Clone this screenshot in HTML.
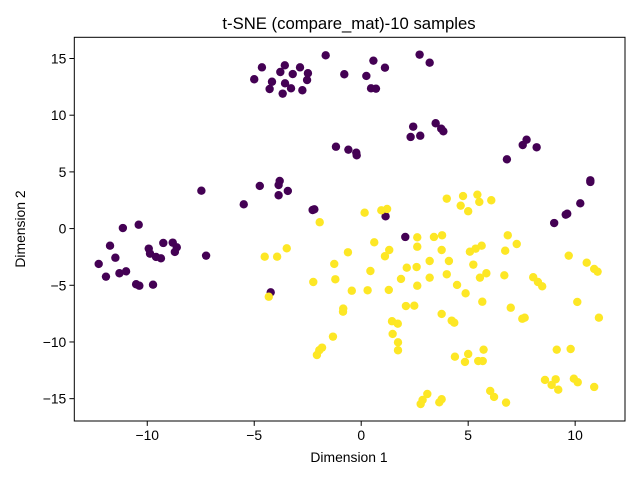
<!DOCTYPE html>
<html><head><meta charset="utf-8"><style>
html,body{margin:0;padding:0;background:#fff;}
svg{display:block;font-family:"Liberation Sans","DejaVu Sans",sans-serif;}
</style></head><body>
<svg id="chart" width="640" height="480" viewBox="0 0 640 480" xmlns="http://www.w3.org/2000/svg">
<rect width="640" height="480" fill="#fff"/>
<text x="349" y="29" font-size="16.7" text-anchor="middle" fill="#000">t-SNE (compare_mat)-10 samples</text>
<g id="marks"></g>
<g id="axes"></g>
<text x="349" y="462" font-size="13.9" text-anchor="middle" fill="#000">Dimension 1</text>
<text x="25" y="229" font-size="13.9" text-anchor="middle" fill="#000" transform="rotate(-90 25 229)">Dimension 2</text>
</svg>
<script>
const purpleX=[-1.66,-4.64,-3.57,-2.86,-3.78,-3.20,-2.49,-5.00,-4.17,-3.56,-2.53,-0.79,-4.28,-3.28,-3.67,-2.75,-1.18,-0.60,-0.23,-0.21,-7.47,-4.74,-3.81,-3.86,-3.43,-3.86,-5.49,-2.19,-2.27,-11.14,-10.40,2.73,3.20,0.57,1.11,0.24,0.46,0.69,2.43,2.31,2.76,3.48,3.74,3.84,7.73,7.55,8.20,6.81,10.71,10.71,10.24,9.63,9.56,9.02,1.14,2.06,-4.23,-11.74,-11.49,-12.27,-11.93,-11.30,-10.99,-10.52,-10.37,-9.73,-9.93,-9.87,-9.59,-9.36,-9.25,-8.81,-8.62,-8.71,-7.25];
const purpleY=[15.28,14.22,14.40,14.22,13.81,13.63,13.70,13.17,12.95,12.81,13.10,13.61,12.31,12.37,11.90,12.20,7.22,6.96,6.69,6.46,3.34,3.76,4.20,3.84,3.32,2.94,2.14,1.70,1.64,0.05,0.34,15.34,14.63,14.81,14.19,13.46,12.37,12.34,8.99,8.08,8.19,9.29,8.81,8.58,7.84,7.37,7.17,6.11,4.26,4.11,2.23,1.31,1.23,0.49,1.08,-0.74,-5.62,-1.51,-2.57,-3.12,-4.24,-3.94,-3.77,-4.91,-5.04,-4.95,-1.77,-2.21,-2.50,-2.62,-1.27,-1.24,-1.65,-2.06,-2.39];
const yellowX=[-1.94,0.16,0.94,1.21,4.00,4.76,5.43,4.65,5.52,5.00,6.08,0.61,1.31,1.11,2.62,2.62,-0.62,-1.26,-3.48,-4.51,-3.93,0.43,2.13,2.59,1.86,-2.24,-1.21,-0.44,0.30,1.29,2.62,-4.32,-0.84,-0.85,2.09,2.48,1.44,1.71,1.47,1.72,1.72,-1.32,-1.83,-1.96,-2.07,2.78,3.40,3.78,3.76,5.08,5.35,5.63,6.85,7.27,6.73,9.70,10.54,10.89,11.05,3.20,4.10,5.24,4.00,3.20,5.55,5.85,6.69,8.04,8.26,8.46,4.48,4.88,3.76,4.23,4.35,5.66,6.99,7.53,7.64,10.10,11.11,4.38,5.00,4.85,5.72,5.47,5.68,9.14,9.79,8.59,9.09,8.90,9.21,9.94,10.12,10.89,3.09,2.87,3.76,3.65,6.03,6.21,6.77];
const yellowY=[0.56,1.40,1.61,1.73,2.64,2.87,2.99,2.02,2.35,1.53,2.50,-1.21,-1.89,-2.44,-0.77,-1.60,-2.09,-3.12,-1.74,-2.48,-2.48,-3.74,-3.45,-3.39,-4.44,-4.71,-4.47,-5.48,-5.44,-5.41,-5.04,-6.01,-7.06,-7.33,-6.83,-6.80,-8.17,-8.39,-9.29,-10.03,-10.73,-9.53,-10.50,-10.73,-11.15,-15.47,-0.74,-0.59,-1.89,-2.04,-1.77,-1.51,-0.59,-1.36,-1.95,-2.39,-3.01,-3.56,-3.80,-2.86,-2.86,-3.18,-4.03,-4.33,-4.33,-3.94,-4.12,-4.29,-4.71,-5.09,-4.97,-5.71,-7.53,-8.12,-8.30,-6.45,-6.98,-7.95,-7.86,-6.47,-7.86,-11.30,-11.06,-11.76,-10.68,-11.68,-11.68,-10.68,-10.62,-13.35,-13.29,-13.79,-14.21,-13.24,-13.55,-13.97,-14.59,-15.11,-15.05,-15.32,-14.32,-14.85,-15.35];
const xTicks=[-10,-5,0,5,10];
const yTicks=[-15,-10,-5,0,5,10,15];
const xTickLabels=["\u221210","\u22125","0","5","10"];
const yTickLabels=["\u221215","\u221210","\u22125","0","5","10","15"];

const L=74.3,R=625,T=37.3,B=421;
const xMin=-13.41,xMax=12.33,yMin=-16.97,yMax=16.87;
function sx(v){return L+(v-xMin)/(xMax-xMin)*(R-L);}
function sy(v){return B-(v-yMin)/(yMax-yMin)*(B-T);}
const NS="http://www.w3.org/2000/svg";
const marks=document.getElementById('marks');
function drawSeries(xs,ys,color,name){
  for(let i=0;i<xs.length;i++){
    const c=document.createElementNS(NS,'circle');
    c.setAttribute('cx',sx(xs[i]).toFixed(2));
    c.setAttribute('cy',sy(ys[i]).toFixed(2));
    c.setAttribute('r','4.2');
    c.setAttribute('fill',color);
    
    
    marks.appendChild(c);
  }
}
drawSeries(purpleX,purpleY,'#440154','point-class-0');
drawSeries(yellowX,yellowY,'#fde725','point-class-1');

const axes=document.getElementById('axes');
const frame=document.createElementNS(NS,'rect');
frame.setAttribute('x',L);frame.setAttribute('y',T);
frame.setAttribute('width',R-L);frame.setAttribute('height',B-T);
frame.setAttribute('fill','none');frame.setAttribute('stroke','#000');frame.setAttribute('stroke-width','1');


axes.appendChild(frame);
xTicks.forEach((v,i)=>{
  const x=sx(v);
  const ln=document.createElementNS(NS,'line');
  ln.setAttribute('x1',x);ln.setAttribute('x2',x);ln.setAttribute('y1',B);ln.setAttribute('y2',B+4.9);
  ln.setAttribute('stroke','#000');
  
  
  axes.appendChild(ln);
  const t=document.createElementNS(NS,'text');
  t.setAttribute('x',x);t.setAttribute('y',B+19);t.setAttribute('font-size','13.9');t.setAttribute('text-anchor','middle');
  t.textContent=xTickLabels[i];
  
  
  axes.appendChild(t);
});
yTicks.forEach((v,i)=>{
  const y=sy(v);
  const ln=document.createElementNS(NS,'line');
  ln.setAttribute('x1',L-4.9);ln.setAttribute('x2',L);ln.setAttribute('y1',y);ln.setAttribute('y2',y);
  ln.setAttribute('stroke','#000');
  
  
  axes.appendChild(ln);
  const t=document.createElementNS(NS,'text');
  t.setAttribute('x',L-8);t.setAttribute('y',y+5);t.setAttribute('font-size','13.9');t.setAttribute('text-anchor','end');
  t.textContent=yTickLabels[i];
  
  
  axes.appendChild(t);
});
</script>
</body></html>
